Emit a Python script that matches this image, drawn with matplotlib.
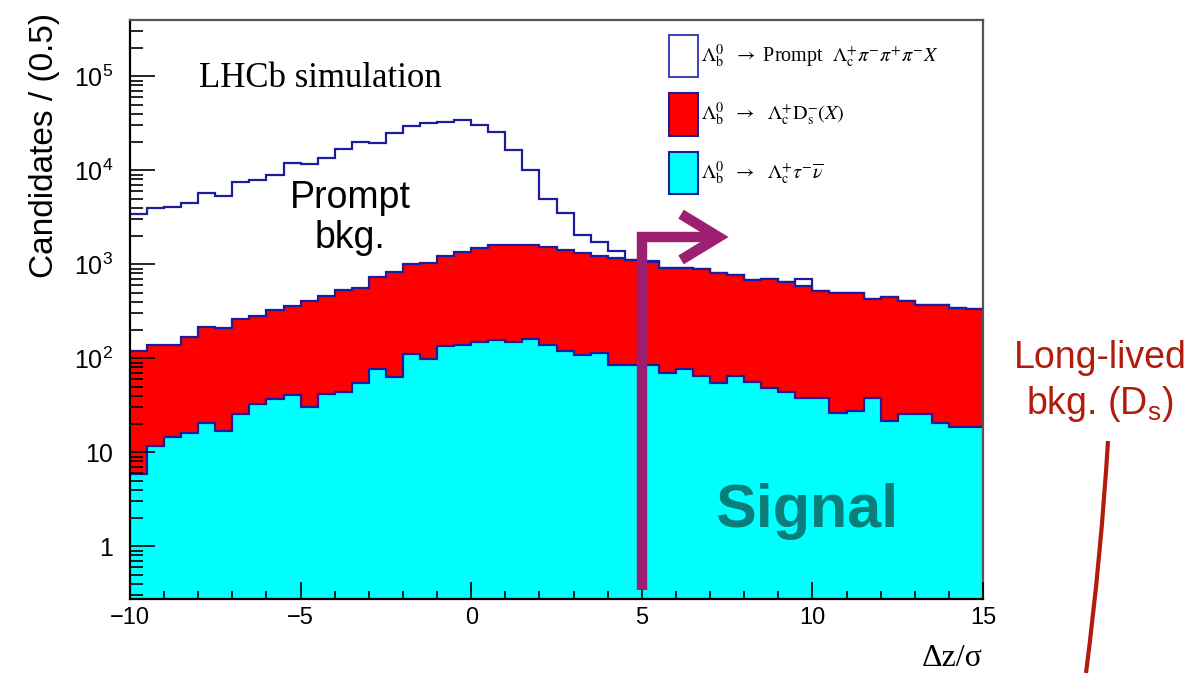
import numpy as np
import matplotlib
matplotlib.use("Agg")
import matplotlib.pyplot as plt
from matplotlib.patches import Rectangle, PathPatch
from matplotlib.path import Path
from matplotlib.ticker import LogLocator, FuncFormatter, MultipleLocator, NullFormatter

plt.rcParams["font.family"] = ["Liberation Sans", "DejaVu Sans"]
plt.rcParams["mathtext.fontset"] = "custom"
plt.rcParams["mathtext.rm"] = "Liberation Sans"
plt.rcParams["mathtext.it"] = "Liberation Sans:italic"
plt.rcParams["mathtext.bf"] = "Liberation Sans:bold"

# ============================================================
# Data: candidates per 0.5 bin of dz/sigma, 50 bins from -10 to 15
# ============================================================
x_lo, x_hi, bin_w = -10.0, 15.0, 0.5

signal = [5.9, 11.8, 14.7, 15.9, 20.6, 17.0, 25.6, 32.4, 36.9, 40.4,
          30.6, 41.7, 43.8, 54.2, 77.5, 63.7, 111, 99, 135, 138,
          149, 157, 149, 159, 140, 120, 109, 113, 85, 84,
          84, 70, 77.5, 65, 54, 65, 56, 48, 44, 37.5,
          37.5, 26, 27.5, 37.8, 21.7, 25.6, 25.6, 20.6, 18.7, 18.7]

ds_bkg = [114, 126, 123, 154, 196, 193, 238, 250, 289, 320,
          373, 418, 489, 510, 650, 770, 889, 941, 1099, 1204,
          1354, 1447, 1461, 1433, 1377, 1290, 1211, 1121, 1095, 1028,
          966, 836, 842, 820, 748, 710, 625, 644, 599, 555,
          486, 465, 463, 393, 430, 384, 346, 351, 326, 315]

prompt_bkg = [3280, 3810, 3960, 4350, 5560, 5120, 7250, 7610, 8580, 11640,
              11260, 13140, 16170, 19540, 18620, 24270, 28600, 31060, 31670, 33160,
              28800, 23700, 14790, 8480, 3470, 2130, 710, 490, 220, 0,
              40, 0, 0, 0, 0, 0, 0, 0, 0, 100,
              0, 0, 0, 0, 0, 0, 0, 0, 0, 0]

legend_labels = [
    r"$\Lambda_{\mathrm{b}}^{0}$  $\rightarrow$ Prompt  $\Lambda_{\mathrm{c}}^{+}\pi^{-}\pi^{+}\pi^{-}X$",
    r"$\Lambda_{\mathrm{b}}^{0}\ \ \rightarrow\ \ \Lambda_{\mathrm{c}}^{+}\mathrm{D}_{\mathrm{s}}^{-}(X)$",
    r"$\Lambda_{\mathrm{b}}^{0}\ \ \rightarrow\ \ \Lambda_{\mathrm{c}}^{+}\tau^{-}\overline{\nu}$",
]
cut_value = 5.0

W, H = 1200, 674
NAVY = "#1c1c9c"
PURPLE = "#9c1f72"
DARKRED = "#b21c0c"
TEAL = "#0b7d7a"


def px(x, y):
    return x / W, 1 - y / H


edges = np.linspace(x_lo, x_hi, int(round((x_hi - x_lo) / bin_w)) + 1)
lvl_signal = np.array(signal)
lvl_ds = lvl_signal + np.array(ds_bkg)
lvl_total = lvl_ds + np.array(prompt_bkg)

fig = plt.figure(figsize=(W / 100, H / 100), dpi=100)
ax = fig.add_axes([130 / W, 1 - 599 / H, 853 / W, 579 / H])

base = 0.01
for lvl, fc in [(lvl_total, "white"), (lvl_ds, "#ff0000"), (lvl_signal, "#00ffff")]:
    ax.stairs(lvl, edges, fill=True, color=fc, baseline=base, lw=0)
    ax.stairs(lvl, edges, color=NAVY, lw=1.6, baseline=None)

ax.set_xlim(x_lo, x_hi)
ax.set_yscale("log")
ax.set_ylim(0.275, 3.97e5)

ax.xaxis.set_major_locator(MultipleLocator(5))
ax.xaxis.set_minor_locator(MultipleLocator(1))
ax.yaxis.set_major_locator(LogLocator(base=10, numticks=20))
ax.yaxis.set_minor_locator(LogLocator(base=10, subs=np.arange(2, 10), numticks=20))
ax.yaxis.set_minor_formatter(NullFormatter())


def ylab(v, pos):
    if v < 0.5:
        return ""
    e = int(round(np.log10(v)))
    if e == 0:
        return "1"
    if e == 1:
        return "10"
    return r"$10^{%d}$" % e


ax.yaxis.set_major_formatter(FuncFormatter(ylab))
ax.xaxis.set_major_formatter(FuncFormatter(lambda v, p: ("%d" % v).replace("-", "\u2212")))

ax.tick_params(axis="x", which="major", direction="in", length=12, width=1.2, labelsize=17, pad=6, top=False)
ax.tick_params(axis="x", which="minor", direction="in", length=6, width=1.2, top=False)
ax.tick_params(axis="y", which="major", direction="in", length=18, width=1.2, labelsize=18, pad=12, right=False)
ax.tick_params(axis="y", which="minor", direction="in", length=9, width=1.2, right=False)
for s in ["left", "bottom"]:
    ax.spines[s].set_linewidth(1.6)
    ax.spines[s].set_color("black")
for s in ["top", "right"]:
    ax.spines[s].set_linewidth(1.6)
    ax.spines[s].set_color("#555555")
ax.set_axisbelow(False)

# cut arrow at dz/sigma = 5
arrow_y = 1950
ax.plot([cut_value, cut_value, cut_value + 2.2], [0.34, arrow_y, arrow_y],
        color=PURPLE, lw=7.5, solid_joinstyle="miter", solid_capstyle="butt", zorder=5)
ax.plot([cut_value + 1.15, cut_value + 2.25, cut_value + 1.15],
        [arrow_y * 1.75, arrow_y, arrow_y / 1.75],
        color=PURPLE, lw=7.5, solid_joinstyle="miter", solid_capstyle="butt", zorder=5)

# legend
for i, (fc, lab) in enumerate(zip(["white", "#ff0000", "#00ffff"], legend_labels)):
    y0 = 35 + 58.5 * i
    x0, y1 = px(669, y0 + 42)
    fig.add_artist(Rectangle((x0, y1), 29 / W, 42 / H, transform=fig.transFigure,
                             facecolor=fc, edgecolor=NAVY if i else "#4444bb", lw=1.5))
    fig.text(*px(701, y0 + 21), lab, fontsize=14.5, family="Liberation Serif",
             math_fontfamily="stix", ha="left", va="center")

fig.text(*px(320, 87), "LHCb simulation", fontsize=25, family="Liberation Serif",
         ha="center", va="baseline")
fig.text(*px(350, 208), "Prompt", fontsize=27, ha="center", va="baseline")
fig.text(*px(350, 248), "bkg.", fontsize=27, ha="center", va="baseline")
fig.text(*px(807, 527), "Signal", fontsize=44, fontweight="bold", color=TEAL,
         ha="center", va="baseline", zorder=10)

fig.text(*px(45, 145), "Candidates / (0.5)", fontsize=24, rotation=90, ha="center", va="center")
fig.text(*px(952, 659), "\u0394z/\u03c3", fontsize=23, family="Liberation Serif",
         ha="center", va="center")

fig.text(*px(1100, 368), "Long-lived", fontsize=27, color=DARKRED, ha="center", va="baseline")
fig.text(*px(1100, 414), r"bkg. ($\mathrm{D_s}$)", fontsize=27, color=DARKRED,
         ha="center", va="baseline")
curve = Path([px(1108, 441), px(1101, 557), px(1086, 673)],
             [Path.MOVETO, Path.CURVE3, Path.CURVE3])
fig.add_artist(PathPatch(curve, transform=fig.transFigure, fill=False,
                         edgecolor=DARKRED, lw=3))

fig.savefig("out.png", dpi=100)
